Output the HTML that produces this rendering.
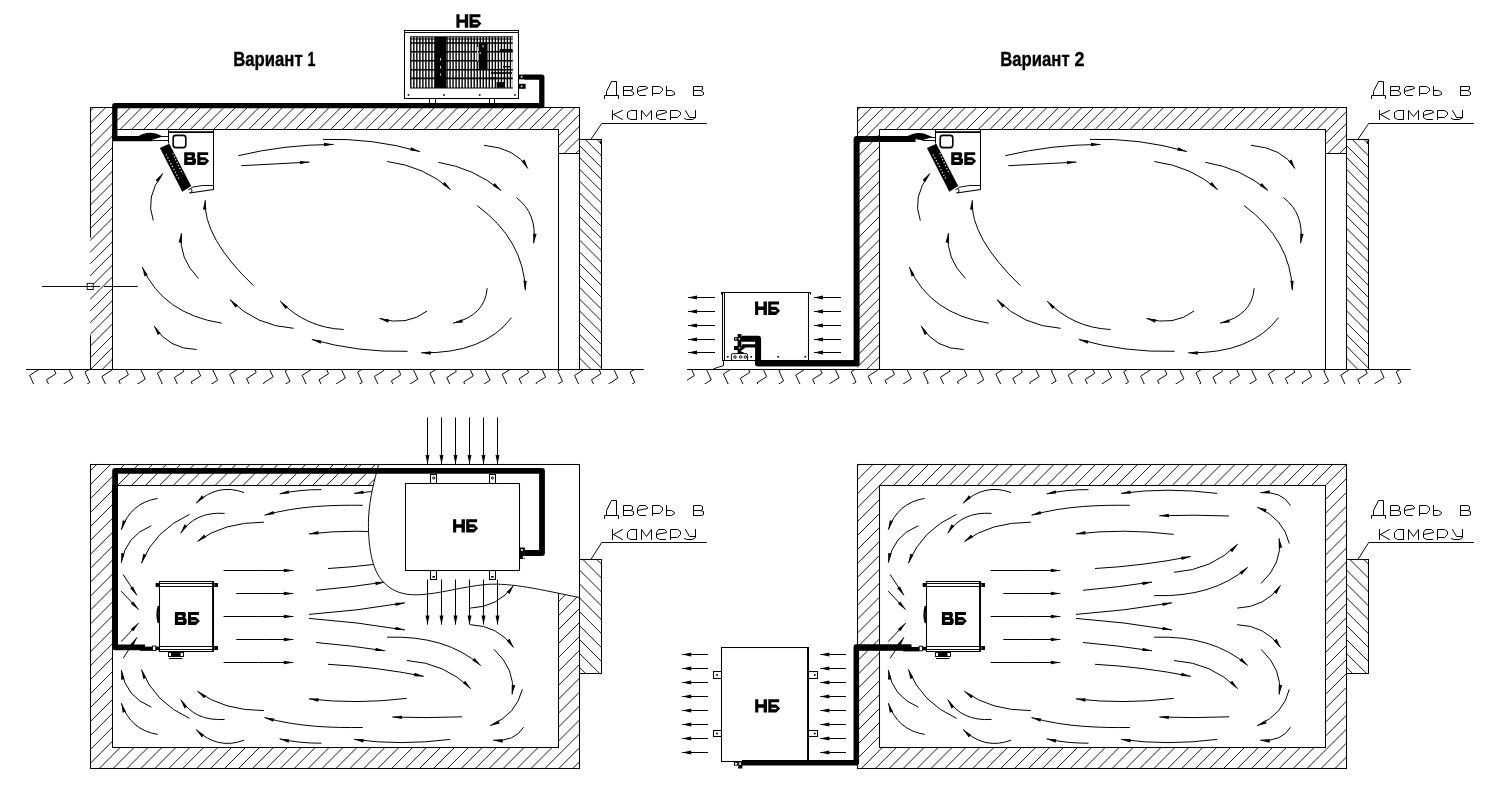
<!DOCTYPE html>
<html><head><meta charset="utf-8"><title>diagram</title>
<style>html,body{margin:0;padding:0;background:#fff}svg{display:block;will-change:transform}</style>
</head><body>
<svg width="1497" height="801" viewBox="0 0 1497 801">
<defs>
<marker id="ah" markerUnits="userSpaceOnUse" markerWidth="11" markerHeight="5" refX="10" refY="2.5" orient="auto"><path d="M10.5,2.5 L0.5,0.8 L0.5,4.2 Z" fill="#000"/></marker>
<marker id="ah2" markerUnits="userSpaceOnUse" markerWidth="11" markerHeight="5" refX="10" refY="2.5" orient="auto"><path d="M10.2,2.5 L1,0.5 L1,4.5 Z" fill="#000"/></marker>
</defs>
<style>
.w{fill:none;stroke:#000;stroke-width:1.05}
.n{fill:none;stroke:#000;stroke-width:0.95}
.h{fill:none;stroke:#000;stroke-width:0.8}
.a{fill:none;stroke:#000;stroke-width:1.0;marker-end:url(#ah)}
.b{fill:none;stroke:#000;stroke-width:1.05;marker-end:url(#ah2)}
.t{fill:none;stroke:#000;stroke-width:1.0;stroke-linejoin:round;stroke-linecap:round}
.f{fill:#000;stroke:none}
.blk{fill:#000;stroke:none}
.wf{fill:#fff;stroke:none}
.hid{font-family:"Liberation Sans",sans-serif;font-size:14px;fill:none;stroke:none}
.ttl{font-family:"Liberation Sans",sans-serif;font-weight:bold;font-size:20.4px;fill:#000;stroke:#000;stroke-width:0.35px;opacity:0.995}
</style>
<rect x="0" y="0" width="1497" height="801" fill="#fff"/>
<clipPath id="hc1"><polygon points="90.2,107.2 112.4,107.2 112.4,369.3 90.2,369.3"/></clipPath>
<path clip-path="url(#hc1)" d="M-168.9,370.3 L95.2,106.2 M-157.2,370.3 L107.0,106.2 M-145.4,370.3 L118.7,106.2 M-133.7,370.3 L130.4,106.2 M-121.9,370.3 L142.2,106.2 M-110.2,370.3 L153.9,106.2 M-98.4,370.3 L165.7,106.2 M-86.7,370.3 L177.4,106.2 M-74.9,370.3 L189.2,106.2 M-63.2,370.3 L200.9,106.2 M-51.4,370.3 L212.7,106.2 M-39.7,370.3 L224.4,106.2 M-27.9,370.3 L236.2,106.2 M-16.2,370.3 L247.9,106.2 M-4.4,370.3 L259.7,106.2 M7.3,370.3 L271.4,106.2 M19.1,370.3 L283.2,106.2 M30.8,370.3 L294.9,106.2 M42.6,370.3 L306.7,106.2 M54.3,370.3 L318.4,106.2 M66.1,370.3 L330.2,106.2 M77.8,370.3 L341.9,106.2 M89.6,370.3 L353.7,106.2 M101.3,370.3 L365.4,106.2" class="h" style="stroke-width:0.90"/>
<clipPath id="hc2"><polygon points="117.4,107.2 579.7,107.2 579.7,153.3 558.6,153.3 558.6,129.8 117.4,129.8"/></clipPath>
<path clip-path="url(#hc2)" d="M71.8,154.3 L119.9,106.2 M83.5,154.3 L131.6,106.2 M95.2,154.3 L143.3,106.2 M106.9,154.3 L155.0,106.2 M118.6,154.3 L166.7,106.2 M130.3,154.3 L178.4,106.2 M142.0,154.3 L190.1,106.2 M153.7,154.3 L201.8,106.2 M165.4,154.3 L213.5,106.2 M177.1,154.3 L225.2,106.2 M188.8,154.3 L236.9,106.2 M200.5,154.3 L248.6,106.2 M212.2,154.3 L260.3,106.2 M223.9,154.3 L272.0,106.2 M235.6,154.3 L283.7,106.2 M247.3,154.3 L295.4,106.2 M259.0,154.3 L307.1,106.2 M270.7,154.3 L318.8,106.2 M282.4,154.3 L330.5,106.2 M294.1,154.3 L342.2,106.2 M305.8,154.3 L353.9,106.2 M317.5,154.3 L365.6,106.2 M329.2,154.3 L377.3,106.2 M340.9,154.3 L389.0,106.2 M352.6,154.3 L400.7,106.2 M364.3,154.3 L412.4,106.2 M376.0,154.3 L424.1,106.2 M387.7,154.3 L435.8,106.2 M399.4,154.3 L447.5,106.2 M411.1,154.3 L459.2,106.2 M422.8,154.3 L470.9,106.2 M434.5,154.3 L482.6,106.2 M446.2,154.3 L494.3,106.2 M457.9,154.3 L506.0,106.2 M469.6,154.3 L517.7,106.2 M481.3,154.3 L529.4,106.2 M493.0,154.3 L541.1,106.2 M504.7,154.3 L552.8,106.2 M516.4,154.3 L564.5,106.2 M528.1,154.3 L576.2,106.2 M539.8,154.3 L587.9,106.2 M551.5,154.3 L599.6,106.2 M563.2,154.3 L611.3,106.2 M574.9,154.3 L623.0,106.2" class="h" style="stroke-width:0.90"/>
<clipPath id="hc3"><polygon points="579.7,139.3 601.7,139.3 601.7,369.3 579.7,369.3"/></clipPath>
<path clip-path="url(#hc3)" d="M359.8,138.3 L591.8,370.3 M371.6,138.3 L603.6,370.3 M383.4,138.3 L615.4,370.3 M395.2,138.3 L627.2,370.3 M407.0,138.3 L639.0,370.3 M418.8,138.3 L650.8,370.3 M430.6,138.3 L662.6,370.3 M442.4,138.3 L674.4,370.3 M454.2,138.3 L686.2,370.3 M466.0,138.3 L698.0,370.3 M477.8,138.3 L709.8,370.3 M489.6,138.3 L721.6,370.3 M501.4,138.3 L733.4,370.3 M513.2,138.3 L745.2,370.3 M525.0,138.3 L757.0,370.3 M536.8,138.3 L768.8,370.3 M548.6,138.3 L780.6,370.3 M560.4,138.3 L792.4,370.3 M572.2,138.3 L804.2,370.3 M584.0,138.3 L816.0,370.3 M595.8,138.3 L827.8,370.3" class="h" style="stroke-width:0.90"/>
<path d="M90.5,107.2 L90.5,237.6" class="w"/>
<path d="M90.5,335.3 L90.5,369.3" class="w"/>
<path d="M90.2,107.5 L579.7,107.5" class="w"/>
<path d="M579.5,107.2 L579.5,369.3" class="w"/>
<path d="M112.5,369.3 L112.5,129.5 L558.5,129.5 L558.5,369.3" class="w"/>
<path d="M558.6,153.5 L579.7,153.5" class="w"/>
<path d="M579.7,139.5 L601.5,139.5 L601.5,369.3" class="w"/>
<path d="M600.2,140.5 L600.5,143.5 L601.7,142.0" class="n"/>
<path d="M590.9,139.3 L601.7,123.5 L706.9,123.5" class="n"/>
<text x="604.0" y="96.0" class="hid">Дверь в</text><text x="612.0" y="120.0" class="hid">камеру</text>
<path d="M604.5,98.5 L604.5,95.5 L618.5,95.5 L618.5,98.5 M606.5,95.5 L606.5,91.5 L611.5,81.5 L616.5,81.5 L616.5,95.5 M630.5,90.5 L623.5,90.5 M623.5,95.5 L623.5,86.5 L630.5,86.5 L632.5,86.5 L632.5,89.5 L630.5,90.5 L633.5,92.5 L633.5,94.5 L631.5,95.5 L623.5,95.5 M637.5,91.5 L647.5,88.5 L647.5,87.5 L645.5,86.5 L639.5,86.5 L637.5,88.5 L637.5,93.5 L639.5,95.5 L645.5,95.5 M652.5,95.5 L652.5,86.5 L659.5,86.5 L662.5,88.5 L662.5,90.5 L659.5,93.5 L652.5,93.5 M666.5,86.5 L666.5,95.5 L671.5,95.5 L674.5,94.5 L674.5,92.5 L671.5,90.5 L666.5,90.5 M700.5,90.5 L693.5,90.5 M693.5,95.5 L693.5,86.5 L700.5,86.5 L702.5,86.5 L702.5,89.5 L700.5,90.5 L703.5,92.5 L703.5,94.5 L701.5,95.5 L693.5,95.5 M612.5,110.5 L612.5,119.5 M622.5,110.5 L613.5,114.5 L622.5,119.5 M612.5,114.5 L613.5,114.5 M636.5,110.5 L636.5,119.5 M636.5,110.5 L630.5,110.5 L627.5,112.5 L627.5,117.5 L630.5,119.5 L636.5,119.5 M641.5,119.5 L641.5,110.5 L646.5,116.5 L651.5,110.5 L651.5,119.5 M656.5,115.5 L666.5,112.5 L666.5,111.5 L664.5,110.5 L658.5,110.5 L656.5,112.5 L656.5,117.5 L659.5,119.5 L665.5,119.5 M670.5,119.5 L670.5,110.5 L677.5,110.5 L680.5,112.5 L680.5,114.5 L677.5,117.5 L670.5,117.5 M685.5,110.5 L689.5,117.5 L695.5,117.5 M695.5,110.5 L695.5,117.5 L692.5,119.5 L686.5,119.5 L684.5,118.5" class="t"/>
<clipPath id="gc4"><rect x="26.0" y="369.3" width="617.8" height="14.6"/></clipPath>
<path clip-path="url(#gc4)" d="M-23.7,335.6 L-33.2,341.7 L-28.5,351.9 L-38.0,358.0 L-33.2,368.2 L-42.7,374.3 L-38.0,384.6 L-47.5,390.6 L-42.7,400.9 L-52.2,406.9 M-2.1,323.7 L-11.6,329.7 L-6.8,340.0 L-16.3,346.0 L-11.6,356.3 L-21.1,362.3 L-16.3,372.6 L-25.8,378.7 L-21.1,388.9 L-30.6,395.0 M14.8,328.0 L5.3,334.1 L10.1,344.3 L0.6,350.4 L5.3,360.6 L-4.2,366.7 L0.6,376.9 L-8.9,383.0 L-4.2,393.2 L-13.7,399.3 M31.7,332.4 L22.2,338.4 L27.0,348.7 L17.5,354.7 L22.2,365.0 L12.7,371.0 L17.5,381.3 L8.0,387.4 L12.7,397.6 L3.2,403.7 M48.6,336.7 L39.1,342.8 L43.9,353.0 L34.4,359.1 L39.1,369.3 L29.6,375.4 L34.4,385.6 L24.9,391.7 L29.6,401.9 L20.1,408.0 M70.3,324.8 L60.8,330.8 L65.5,341.1 L56.0,347.1 L60.8,357.4 L51.2,363.4 L56.0,373.7 L46.5,379.8 L51.3,390.0 L41.8,396.1 M87.2,329.1 L77.6,335.2 L82.4,345.4 L72.9,351.5 L77.7,361.7 L68.1,367.8 L72.9,378.0 L63.4,384.1 L68.2,394.3 L58.6,400.4 M104.1,333.4 L94.5,339.5 L99.3,349.8 L89.8,355.8 L94.6,366.1 L85.0,372.1 L89.8,382.4 L80.3,388.4 L85.1,398.7 L75.5,404.8 M121.0,337.8 L111.4,343.9 L116.2,354.1 L106.7,360.2 L111.5,370.4 L101.9,376.5 L106.7,386.7 L97.2,392.8 L102.0,403.0 L92.4,409.1 M142.6,325.8 L133.1,331.9 L137.9,342.1 L128.3,348.2 L133.1,358.5 L123.6,364.5 L128.4,374.8 L118.8,380.8 L123.6,391.1 L114.1,397.1 M159.5,330.2 L150.0,336.3 L154.8,346.5 L145.2,352.6 L150.0,362.8 L140.5,368.9 L145.3,379.1 L135.8,385.2 L140.5,395.4 L131.0,401.5 M176.4,334.5 L166.9,340.6 L171.7,350.8 L162.1,356.9 L166.9,367.2 L157.4,373.2 L162.2,383.5 L152.6,389.5 L157.4,399.8 L147.9,405.8 M193.3,338.9 L183.8,345.0 L188.6,355.2 L179.0,361.3 L183.8,371.5 L174.3,377.6 L179.1,387.8 L169.5,393.9 L174.3,404.1 L164.8,410.2 M215.0,326.9 L205.4,333.0 L210.2,343.2 L200.7,349.3 L205.5,359.5 L195.9,365.6 L200.7,375.9 L191.2,381.9 L196.0,392.2 L186.4,398.2 M231.9,331.3 L222.3,337.3 L227.1,347.6 L217.6,353.7 L222.4,363.9 L212.8,370.0 L217.6,380.2 L208.1,386.3 L212.9,396.5 L203.3,402.6 M248.8,335.6 L239.2,341.7 L244.0,351.9 L234.5,358.0 L239.3,368.2 L229.7,374.3 L234.5,384.6 L225.0,390.6 L229.8,400.9 L220.2,406.9 M270.4,323.7 L260.9,329.7 L265.7,340.0 L256.1,346.0 L260.9,356.3 L251.4,362.4 L256.2,372.6 L246.6,378.7 L251.4,388.9 L241.9,395.0 M287.3,328.0 L277.8,334.1 L282.6,344.3 L273.0,350.4 L277.8,360.6 L268.3,366.7 L273.1,376.9 L263.5,383.0 L268.3,393.3 L258.8,399.3 M304.2,332.4 L294.7,338.4 L299.5,348.7 L289.9,354.7 L294.7,365.0 L285.2,371.1 L290.0,381.3 L280.4,387.4 L285.2,397.6 L275.7,403.7 M321.1,336.7 L311.6,342.8 L316.4,353.0 L306.8,359.1 L311.6,369.3 L302.1,375.4 L306.9,385.6 L297.3,391.7 L302.1,402.0 L292.6,408.0 M342.8,324.8 L333.2,330.8 L338.0,341.1 L328.5,347.1 L333.3,357.4 L323.8,363.4 L328.5,373.7 L319.0,379.8 L323.8,390.0 L314.2,396.1 M359.7,329.1 L350.1,335.2 L354.9,345.4 L345.4,351.5 L350.2,361.7 L340.6,367.8 L345.4,378.0 L335.9,384.1 L340.7,394.3 L331.1,400.4 M376.6,333.5 L367.1,339.5 L371.8,349.8 L362.3,355.8 L367.1,366.1 L357.6,372.1 L362.3,382.4 L352.8,388.5 L357.6,398.7 L348.1,404.8 M393.5,337.8 L383.9,343.9 L388.7,354.1 L379.2,360.2 L384.0,370.4 L374.4,376.5 L379.2,386.7 L369.7,392.8 L374.5,403.0 L364.9,409.1 M415.1,325.8 L405.6,331.9 L410.4,342.2 L400.9,348.2 L405.6,358.5 L396.1,364.5 L400.9,374.8 L391.4,380.8 L396.1,391.1 L386.6,397.2 M432.0,330.2 L422.5,336.3 L427.3,346.5 L417.8,352.6 L422.5,362.8 L413.0,368.9 L417.8,379.1 L408.2,385.2 L413.0,395.4 L403.5,401.5 M448.9,334.5 L439.4,340.6 L444.2,350.9 L434.6,356.9 L439.4,367.2 L429.9,373.2 L434.7,383.5 L425.1,389.5 L429.9,399.8 L420.4,405.9 M465.8,338.9 L456.3,345.0 L461.1,355.2 L451.6,361.3 L456.3,371.5 L446.8,377.6 L451.6,387.8 L442.1,393.9 L446.8,404.1 L437.3,410.2 M487.5,326.9 L477.9,333.0 L482.7,343.2 L473.2,349.3 L478.0,359.6 L468.4,365.6 L473.2,375.9 L463.7,381.9 L468.5,392.2 L458.9,398.2 M504.4,331.3 L494.8,337.4 L499.6,347.6 L490.1,353.7 L494.9,363.9 L485.3,370.0 L490.1,380.2 L480.6,386.3 L485.4,396.5 L475.8,402.6 M521.3,335.6 L511.8,341.7 L516.5,351.9 L507.0,358.0 L511.8,368.3 L502.2,374.3 L507.0,384.6 L497.5,390.6 L502.3,400.9 L492.8,406.9 M542.9,323.7 L533.4,329.7 L538.2,340.0 L528.6,346.1 L533.4,356.3 L523.9,362.4 L528.7,372.6 L519.1,378.7 L523.9,388.9 L514.4,395.0 M559.8,328.0 L550.3,334.1 L555.1,344.3 L545.5,350.4 L550.3,360.6 L540.8,366.7 L545.6,377.0 L536.0,383.0 L540.8,393.3 L531.3,399.3 M576.7,332.4 L567.2,338.4 L572.0,348.7 L562.4,354.8 L567.2,365.0 L557.7,371.1 L562.5,381.3 L552.9,387.4 L557.7,397.6 L548.2,403.7 M593.6,336.7 L584.1,342.8 L588.9,353.0 L579.3,359.1 L584.1,369.3 L574.6,375.4 L579.4,385.7 L569.8,391.7 L574.6,402.0 L565.1,408.0 M615.3,324.8 L605.8,330.8 L610.5,341.1 L601.0,347.1 L605.8,357.4 L596.2,363.5 L601.0,373.7 L591.5,379.8 L596.3,390.0 L586.8,396.1 M632.2,329.1 L622.6,335.2 L627.4,345.4 L617.9,351.5 L622.7,361.7 L613.1,367.8 L617.9,378.0 L608.4,384.1 L613.2,394.4 L603.6,400.4 M649.1,333.5 L639.5,339.5 L644.3,349.8 L634.8,355.8 L639.6,366.1 L630.0,372.2 L634.8,382.4 L625.3,388.5 L630.1,398.7 L620.5,404.8 M666.0,337.8 L656.4,343.9 L661.2,354.1 L651.7,360.2 L656.5,370.4 L646.9,376.5 L651.7,386.7 L642.2,392.8 L647.0,403.1 L637.4,409.1 M687.6,325.9 L678.1,331.9 L682.9,342.2 L673.4,348.2 L678.1,358.5 L668.6,364.5 L673.4,374.8 L663.9,380.9 L668.6,391.1 L659.1,397.2 M704.5,330.2 L695.0,336.3 L699.8,346.5 L690.2,352.6 L695.0,362.8 L685.5,368.9 L690.3,379.1 L680.8,385.2 L685.5,395.4 L676.0,401.5 M721.4,334.6 L711.9,340.6 L716.7,350.9 L707.1,356.9 L711.9,367.2 L702.4,373.2 L707.2,383.5 L697.6,389.6 L702.4,399.8 L692.9,405.9 M738.3,338.9 L728.8,345.0 L733.6,355.2 L724.0,361.3 L728.8,371.5 L719.3,377.6 L724.1,387.8 L714.5,393.9 L719.3,404.1 L709.8,410.2 M760.0,326.9 L750.4,333.0 L755.2,343.3 L745.7,349.3 L750.5,359.6 L740.9,365.6 L745.7,375.9 L736.2,381.9 L741.0,392.2 L731.4,398.3 M776.9,331.3 L767.4,337.4 L772.1,347.6 L762.6,353.7 L767.4,363.9 L757.9,370.0 L762.6,380.2 L753.1,386.3 L757.9,396.5 L748.4,402.6" class="h" style="stroke-width:0.95"/>
<path d="M26.0,369.5 L643.8,369.5" class="w"/>
<path d="M238.3,155.7 Q284.1,144.6 333.5,144.4" class="a"/>
<path d="M241.3,165.7 Q275.4,163.9 309.4,162.1" class="a"/>
<path d="M153.3,220.5 Q144.6,197.0 162.8,173.5" class="a"/>
<path d="M198.4,278.4 Q178.5,258.2 181.3,233.2" class="a"/>
<path d="M253.5,285.7 Q203.0,237.4 205.2,200.2" class="a"/>
<path d="M221.7,323.2 Q163.0,313.9 142.3,267.1" class="a"/>
<path d="M196.6,349.5 Q168.7,349.2 154.1,326.0" class="a"/>
<path d="M293.6,328.3 Q256.2,326.0 230.0,299.7" class="a"/>
<path d="M343.7,329.5 Q306.1,327.8 280.1,301.0" class="a"/>
<path d="M407.6,351.3 Q358.2,352.6 311.9,339.5" class="a"/>
<path d="M511.5,317.7 Q484.0,353.8 421.3,352.8" class="a"/>
<path d="M487.2,288.2 Q485.2,315.3 453.2,323.2" class="a"/>
<path d="M427.1,311.0 Q406.7,326.5 379.5,318.5" class="a"/>
<path d="M323.0,139.4 Q372.6,137.9 419.8,151.5" class="a"/>
<path d="M387.2,161.5 Q425.1,166.4 450.7,189.7" class="a"/>
<path d="M438.3,162.3 Q474.4,168.2 501.0,190.5" class="a"/>
<path d="M484.0,145.3 Q516.0,148.1 527.9,168.5" class="a"/>
<path d="M516.4,197.6 Q537.5,213.6 533.7,243.2" class="a"/>
<path d="M477.2,205.6 Q523.8,240.1 525.3,290.2" class="a"/>
<path d="M42.0,286.5 L100.2,286.5" class="n"/>
<path d="M104.0,286.5 L137.8,286.5" class="n"/>
<rect x="87.2" y="283.3" width="6" height="6.2" fill="#fff" stroke="#000" stroke-width="0.9"/>
<path d="M87.2,286.5 L93.2,286.5" class="n"/>
<rect x="404.5" y="30.5" width="114.0" height="68.0" class="w"/>
<path d="M404.3,32.5 L518.6,32.5" class="n"/>
<rect x="410.1" y="36.3" width="102.7" height="52.2" class="f"/>
<path d="M412.30,37.2 v1.4 M412.30,39.6 v2.6 M412.30,43.8 v7.2 M412.30,52.6 v7.4 M412.30,61.6 v7.4 M412.30,70.6 v7.0 M412.30,79.2 v8.2 M415.32,37.2 v1.4 M415.32,39.6 v2.6 M415.32,43.8 v7.2 M415.32,52.6 v7.4 M415.32,61.6 v7.4 M415.32,70.6 v7.0 M415.32,79.2 v8.2 M418.34,37.2 v1.4 M418.34,39.6 v2.6 M418.34,43.8 v7.2 M418.34,52.6 v7.4 M418.34,61.6 v7.4 M418.34,70.6 v7.0 M418.34,79.2 v8.2 M421.36,37.2 v1.4 M421.36,39.6 v2.6 M421.36,43.8 v7.2 M421.36,52.6 v7.4 M421.36,61.6 v7.4 M421.36,70.6 v7.0 M421.36,79.2 v8.2 M424.38,37.2 v1.4 M424.38,39.6 v2.6 M424.38,43.8 v7.2 M424.38,52.6 v7.4 M424.38,61.6 v7.4 M424.38,70.6 v7.0 M424.38,79.2 v8.2 M427.40,37.2 v1.4 M427.40,39.6 v2.6 M427.40,43.8 v7.2 M427.40,52.6 v7.4 M427.40,61.6 v7.4 M427.40,70.6 v7.0 M427.40,79.2 v8.2 M430.42,37.2 v1.4 M430.42,39.6 v2.6 M430.42,43.8 v7.2 M430.42,52.6 v7.4 M430.42,61.6 v7.4 M430.42,70.6 v7.0 M430.42,79.2 v8.2 M433.44,37.2 v1.4 M433.44,39.6 v2.6 M433.44,43.8 v7.2 M433.44,52.6 v7.4 M433.44,61.6 v7.4 M433.44,70.6 v7.0 M433.44,79.2 v8.2 M436.46,37.2 v1.4 M436.46,39.6 v2.6 M436.46,43.8 v7.2 M436.46,52.6 v7.4 M436.46,61.6 v7.4 M436.46,70.6 v7.0 M436.46,79.2 v8.2 M439.48,37.2 v1.4 M439.48,39.6 v2.6 M439.48,43.8 v7.2 M439.48,52.6 v7.4 M439.48,61.6 v7.4 M439.48,70.6 v7.0 M439.48,79.2 v8.2 M442.50,37.2 v1.4 M442.50,39.6 v2.6 M442.50,43.8 v7.2 M442.50,52.6 v7.4 M442.50,61.6 v7.4 M442.50,70.6 v7.0 M442.50,79.2 v8.2 M445.52,37.2 v1.4 M445.52,39.6 v2.6 M445.52,43.8 v7.2 M445.52,52.6 v7.4 M445.52,61.6 v7.4 M445.52,70.6 v7.0 M445.52,79.2 v8.2 M448.54,37.2 v1.4 M448.54,39.6 v2.6 M448.54,43.8 v7.2 M448.54,52.6 v7.4 M448.54,61.6 v7.4 M448.54,70.6 v7.0 M448.54,79.2 v8.2 M451.56,37.2 v1.4 M451.56,39.6 v2.6 M451.56,43.8 v7.2 M451.56,52.6 v7.4 M451.56,61.6 v7.4 M451.56,70.6 v7.0 M451.56,79.2 v8.2 M454.58,37.2 v1.4 M454.58,39.6 v2.6 M454.58,43.8 v7.2 M454.58,52.6 v7.4 M454.58,61.6 v7.4 M454.58,70.6 v7.0 M454.58,79.2 v8.2 M457.60,37.2 v1.4 M457.60,39.6 v2.6 M457.60,43.8 v7.2 M457.60,52.6 v7.4 M457.60,61.6 v7.4 M457.60,70.6 v7.0 M457.60,79.2 v8.2 M460.62,37.2 v1.4 M460.62,39.6 v2.6 M460.62,43.8 v7.2 M460.62,52.6 v7.4 M460.62,61.6 v7.4 M460.62,70.6 v7.0 M460.62,79.2 v8.2 M463.64,37.2 v1.4 M463.64,39.6 v2.6 M463.64,43.8 v7.2 M463.64,52.6 v7.4 M463.64,61.6 v7.4 M463.64,70.6 v7.0 M463.64,79.2 v8.2 M466.66,37.2 v1.4 M466.66,39.6 v2.6 M466.66,43.8 v7.2 M466.66,52.6 v7.4 M466.66,61.6 v7.4 M466.66,70.6 v7.0 M466.66,79.2 v8.2 M469.68,37.2 v1.4 M469.68,39.6 v2.6 M469.68,43.8 v7.2 M469.68,52.6 v7.4 M469.68,61.6 v7.4 M469.68,70.6 v7.0 M469.68,79.2 v8.2 M472.70,37.2 v1.4 M472.70,39.6 v2.6 M472.70,43.8 v7.2 M472.70,52.6 v7.4 M472.70,61.6 v7.4 M472.70,70.6 v7.0 M472.70,79.2 v8.2 M475.72,37.2 v1.4 M475.72,39.6 v2.6 M475.72,43.8 v7.2 M475.72,52.6 v7.4 M475.72,61.6 v7.4 M475.72,70.6 v7.0 M475.72,79.2 v8.2 M478.74,37.2 v1.4 M478.74,39.6 v2.6 M478.74,43.8 v7.2 M478.74,52.6 v7.4 M478.74,61.6 v7.4 M478.74,70.6 v7.0 M478.74,79.2 v8.2 M481.76,37.2 v1.4 M481.76,39.6 v2.6 M481.76,43.8 v7.2 M481.76,52.6 v7.4 M481.76,61.6 v7.4 M481.76,70.6 v7.0 M481.76,79.2 v8.2 M484.78,37.2 v1.4 M484.78,39.6 v2.6 M484.78,43.8 v7.2 M484.78,52.6 v7.4 M484.78,61.6 v7.4 M484.78,70.6 v7.0 M484.78,79.2 v8.2 M487.80,37.2 v1.4 M487.80,39.6 v2.6 M487.80,43.8 v7.2 M487.80,52.6 v7.4 M487.80,61.6 v7.4 M487.80,70.6 v7.0 M487.80,79.2 v8.2 M490.82,37.2 v1.4 M490.82,39.6 v2.6 M490.82,43.8 v7.2 M490.82,52.6 v7.4 M490.82,61.6 v7.4 M490.82,70.6 v7.0 M490.82,79.2 v8.2 M493.84,37.2 v1.4 M493.84,39.6 v2.6 M493.84,43.8 v7.2 M493.84,52.6 v7.4 M493.84,61.6 v7.4 M493.84,70.6 v7.0 M493.84,79.2 v8.2 M496.86,37.2 v1.4 M496.86,39.6 v2.6 M496.86,43.8 v7.2 M496.86,52.6 v7.4 M496.86,61.6 v7.4 M496.86,70.6 v7.0 M496.86,79.2 v8.2 M499.88,37.2 v1.4 M499.88,39.6 v2.6 M499.88,43.8 v7.2 M499.88,52.6 v7.4 M499.88,61.6 v7.4 M499.88,70.6 v7.0 M499.88,79.2 v8.2 M502.90,37.2 v1.4 M502.90,39.6 v2.6 M502.90,43.8 v7.2 M502.90,52.6 v7.4 M502.90,61.6 v7.4 M502.90,70.6 v7.0 M502.90,79.2 v8.2 M505.92,37.2 v1.4 M505.92,39.6 v2.6 M505.92,43.8 v7.2 M505.92,52.6 v7.4 M505.92,61.6 v7.4 M505.92,70.6 v7.0 M505.92,79.2 v8.2 M508.94,37.2 v1.4 M508.94,39.6 v2.6 M508.94,43.8 v7.2 M508.94,52.6 v7.4 M508.94,61.6 v7.4 M508.94,70.6 v7.0 M508.94,79.2 v8.2 M511.96,37.2 v1.4 M511.96,39.6 v2.6 M511.96,43.8 v7.2 M511.96,52.6 v7.4 M511.96,61.6 v7.4 M511.96,70.6 v7.0 M511.96,79.2 v8.2" stroke="#fff" stroke-width="1.6" fill="none"/>
<rect x="434.8" y="37.0" width="11.3" height="51.0" class="f"/>
<rect x="478.6" y="42.5" width="9.0" height="27.1" class="f"/>
<rect x="499.7" y="49.0" width="12.9" height="3.0" class="f"/>
<rect x="491.0" y="72.2" width="21.0" height="1.6" class="f"/>
<rect x="496.6" y="82.0" width="8.4" height="5.6" class="f"/>
<rect x="489.0" y="77.6" width="8.0" height="1.6" class="f"/>
<rect x="503.0" y="66.0" width="8.0" height="1.4" class="f"/>
<path d="M440.6,58 v2.5 M440.6,66 v2.5 M440.6,73.5 v2 M483,45 v2.5 M480.2,52 v2 M477.6,47 v14" stroke="#fff" stroke-width="0.9" fill="none"/>
<rect x="407.7" y="94.2" width="1.6" height="1.6" class="f"/>
<rect x="443.2" y="94.2" width="1.6" height="1.6" class="f"/>
<rect x="478.9" y="94.2" width="1.6" height="1.6" class="f"/>
<rect x="514.1" y="94.2" width="1.6" height="1.6" class="f"/>
<rect x="429.5" y="98.5" width="6.0" height="5.0" class="n"/>
<rect x="489.5" y="98.5" width="5.0" height="5.0" class="n"/>
<rect x="519" y="74.6" width="6.6" height="4.8" class="f"/><rect x="519" y="83.8" width="6.6" height="5" class="f"/>
<rect x="520.8" y="76" width="1.6" height="1.6" fill="#fff"/><rect x="520.8" y="85.6" width="1.6" height="1.6" fill="#fff"/>
<path d="M518.5,72.0 L518.5,91.0" class="w"/>
<text x="456.4" y="27.7" class="hid">НБ</text>
<g class="blk"><path d="M456.40,14.30 h3.10 v5.14 h5.30 v-5.14 h3.40 v13.40 h-3.40 v-4.84 h-5.30 v4.84 h-3.10 Z"/><path fill-rule="evenodd" d="M469.50,14.30 h10.9 v3.02 h-7.9 v2.22 h5 l3.9,4.03 l-3.9,4.13 h-8 Z M472.70,22.76 h4.9 v1.51 h-4.9 Z"/></g>
<path d="M524.5,77.1 L541.8,77.1 L541.8,105.7 L114.8,105.7 L114.8,138.7 L152.5,138.7" fill="none" stroke="#000" stroke-width="5.3" stroke-linejoin="round"/>
<path d="M137.5,137 C143,132.4 151,131.9 156,133.6 L163,136.6 L153,139.5 Z" class="f"/>
<path d="M152.4,136.5 L168.6,136.5" class="n"/>
<path d="M152.4,140.5 L168.6,140.5" class="n"/>
<path d="M168.5,143.5 L168.5,129.5 L213.5,129.5 L213.5,189.5 L189.5,193.0" class="w"/>
<path d="M168.5,132.2 H213.8" stroke="#000" stroke-width="1.8" fill="none"/>
<path d="M213.8,185.5 L202.1,185.5 L191.3,187.4" class="n"/>
<polygon points="159.9,148 169.3,143.7 191.2,186.1 182.3,191.7" class="f"/>
<path d="M166.1,154.5 L178.8,178.8" stroke="#fff" stroke-width="1.15" stroke-dasharray="1.15,2.1" fill="none"/>
<path d="M172.0,151.8 L182.5,174.0" stroke="#fff" stroke-width="1.15" stroke-dasharray="1.15,2.1" stroke-dashoffset="1.6" fill="none"/>
<path d="M188.3,189.8 L191.2,188.4 L192.2,191.3 L189.6,193.0" class="n"/>
<rect x="173.2" y="135.4" width="12.6" height="12.2" rx="2.6" class="w" style="stroke-width:1.6"/>
<text x="184.2" y="164.9" class="hid">ВБ</text>
<g class="blk"><path fill-rule="evenodd" d="M184.20,152.20 h9.6 l1.3,1.24 v3.06 l-0.9,1.24 l1.8,1.53 v3.82 l-1.6,1.81 h-10.2 Z M187.40,155.35 h4.2 v1.81 h-4.2 Z M187.40,160.03 h4.9 v1.81 h-4.9 Z"/><path fill-rule="evenodd" d="M197.30,152.20 h10.9 v2.86 h-7.9 v2.10 h5 l3.9,3.82 l-3.9,3.92 h-8 Z M200.50,160.22 h4.9 v1.43 h-4.9 Z"/></g>
<text class="ttl" x="0" y="0" transform="translate(233.2,65.8) scale(0.82,1)">Вариант</text>
<text class="ttl" x="0" y="0" transform="translate(307.6,65.8) scale(0.70,1)">1</text>
<clipPath id="hc5"><polygon points="857.2,107.2 1346.7,107.2 1346.7,153.3 1325.6,153.3 1325.6,129.8 879.4,129.8 879.4,369.3 857.2,369.3"/></clipPath>
<path clip-path="url(#hc5)" d="M597.2,370.3 L861.3,106.2 M608.9,370.3 L873.0,106.2 M620.6,370.3 L884.7,106.2 M632.3,370.3 L896.4,106.2 M643.9,370.3 L908.0,106.2 M655.6,370.3 L919.7,106.2 M667.3,370.3 L931.4,106.2 M679.0,370.3 L943.1,106.2 M690.7,370.3 L954.8,106.2 M702.3,370.3 L966.4,106.2 M714.0,370.3 L978.1,106.2 M725.7,370.3 L989.8,106.2 M737.4,370.3 L1001.5,106.2 M749.1,370.3 L1013.2,106.2 M760.7,370.3 L1024.8,106.2 M772.4,370.3 L1036.5,106.2 M784.1,370.3 L1048.2,106.2 M795.8,370.3 L1059.9,106.2 M807.5,370.3 L1071.6,106.2 M819.1,370.3 L1083.2,106.2 M830.8,370.3 L1094.9,106.2 M842.5,370.3 L1106.6,106.2 M854.2,370.3 L1118.3,106.2 M865.9,370.3 L1130.0,106.2 M877.5,370.3 L1141.6,106.2 M889.2,370.3 L1153.3,106.2 M900.9,370.3 L1165.0,106.2 M912.6,370.3 L1176.7,106.2 M924.3,370.3 L1188.4,106.2 M935.9,370.3 L1200.0,106.2 M947.6,370.3 L1211.7,106.2 M959.3,370.3 L1223.4,106.2 M971.0,370.3 L1235.1,106.2 M982.7,370.3 L1246.8,106.2 M994.3,370.3 L1258.4,106.2 M1006.0,370.3 L1270.1,106.2 M1017.7,370.3 L1281.8,106.2 M1029.4,370.3 L1293.5,106.2 M1041.1,370.3 L1305.2,106.2 M1052.7,370.3 L1316.8,106.2 M1064.4,370.3 L1328.5,106.2 M1076.1,370.3 L1340.2,106.2 M1087.8,370.3 L1351.9,106.2 M1099.5,370.3 L1363.6,106.2 M1111.1,370.3 L1375.2,106.2 M1122.8,370.3 L1386.9,106.2 M1134.5,370.3 L1398.6,106.2 M1146.2,370.3 L1410.3,106.2 M1157.9,370.3 L1422.0,106.2 M1169.5,370.3 L1433.6,106.2 M1181.2,370.3 L1445.3,106.2 M1192.9,370.3 L1457.0,106.2 M1204.6,370.3 L1468.7,106.2 M1216.3,370.3 L1480.4,106.2 M1227.9,370.3 L1492.0,106.2 M1239.6,370.3 L1503.7,106.2 M1251.3,370.3 L1515.4,106.2 M1263.0,370.3 L1527.1,106.2 M1274.7,370.3 L1538.8,106.2 M1286.3,370.3 L1550.4,106.2 M1298.0,370.3 L1562.1,106.2 M1309.7,370.3 L1573.8,106.2 M1321.4,370.3 L1585.5,106.2 M1333.1,370.3 L1597.2,106.2 M1344.7,370.3 L1608.8,106.2" class="h" style="stroke-width:0.90"/>
<clipPath id="hc6"><polygon points="1346.7,139.3 1368.7,139.3 1368.7,369.3 1346.7,369.3"/></clipPath>
<path clip-path="url(#hc6)" d="M1126.8,138.3 L1358.8,370.3 M1138.6,138.3 L1370.6,370.3 M1150.4,138.3 L1382.4,370.3 M1162.2,138.3 L1394.2,370.3 M1174.0,138.3 L1406.0,370.3 M1185.8,138.3 L1417.8,370.3 M1197.6,138.3 L1429.6,370.3 M1209.4,138.3 L1441.4,370.3 M1221.2,138.3 L1453.2,370.3 M1233.0,138.3 L1465.0,370.3 M1244.8,138.3 L1476.8,370.3 M1256.6,138.3 L1488.6,370.3 M1268.4,138.3 L1500.4,370.3 M1280.2,138.3 L1512.2,370.3 M1292.0,138.3 L1524.0,370.3 M1303.8,138.3 L1535.8,370.3 M1315.6,138.3 L1547.6,370.3 M1327.4,138.3 L1559.4,370.3 M1339.2,138.3 L1571.2,370.3 M1351.0,138.3 L1583.0,370.3 M1362.8,138.3 L1594.8,370.3" class="h" style="stroke-width:0.90"/>
<path d="M857.5,107.2 L857.5,137.0" class="w"/>
<path d="M857.2,107.5 L1346.7,107.5" class="w"/>
<path d="M1346.5,107.2 L1346.5,369.3" class="w"/>
<path d="M879.5,369.3 L879.5,129.5 L1325.5,129.5 L1325.5,369.3" class="w"/>
<path d="M1325.6,153.5 L1346.7,153.5" class="w"/>
<path d="M1346.7,139.5 L1368.5,139.5 L1368.5,369.3" class="w"/>
<path d="M1367.2,140.5 L1367.5,143.5 L1368.7,142.0" class="n"/>
<path d="M1357.9,139.3 L1368.7,123.5 L1473.9,123.5" class="n"/>
<text x="1371.0" y="96.0" class="hid">Дверь в</text><text x="1379.0" y="120.0" class="hid">камеру</text>
<path d="M1371.5,98.5 L1371.5,95.5 L1385.5,95.5 L1385.5,98.5 M1373.5,95.5 L1373.5,91.5 L1378.5,81.5 L1383.5,81.5 L1383.5,95.5 M1397.5,90.5 L1390.5,90.5 M1390.5,95.5 L1390.5,86.5 L1397.5,86.5 L1399.5,86.5 L1399.5,89.5 L1397.5,90.5 L1400.5,92.5 L1400.5,94.5 L1398.5,95.5 L1390.5,95.5 M1404.5,91.5 L1414.5,88.5 L1414.5,87.5 L1412.5,86.5 L1406.5,86.5 L1404.5,88.5 L1404.5,93.5 L1406.5,95.5 L1412.5,95.5 M1419.5,95.5 L1419.5,86.5 L1426.5,86.5 L1429.5,88.5 L1429.5,90.5 L1426.5,93.5 L1419.5,93.5 M1433.5,86.5 L1433.5,95.5 L1438.5,95.5 L1441.5,94.5 L1441.5,92.5 L1438.5,90.5 L1433.5,90.5 M1467.5,90.5 L1460.5,90.5 M1460.5,95.5 L1460.5,86.5 L1467.5,86.5 L1469.5,86.5 L1469.5,89.5 L1467.5,90.5 L1470.5,92.5 L1470.5,94.5 L1468.5,95.5 L1460.5,95.5 M1379.5,110.5 L1379.5,119.5 M1389.5,110.5 L1380.5,114.5 L1389.5,119.5 M1379.5,114.5 L1380.5,114.5 M1403.5,110.5 L1403.5,119.5 M1403.5,110.5 L1397.5,110.5 L1394.5,112.5 L1394.5,117.5 L1397.5,119.5 L1403.5,119.5 M1408.5,119.5 L1408.5,110.5 L1413.5,116.5 L1418.5,110.5 L1418.5,119.5 M1423.5,115.5 L1433.5,112.5 L1433.5,111.5 L1431.5,110.5 L1425.5,110.5 L1423.5,112.5 L1423.5,117.5 L1426.5,119.5 L1432.5,119.5 M1437.5,119.5 L1437.5,110.5 L1444.5,110.5 L1447.5,112.5 L1447.5,114.5 L1444.5,117.5 L1437.5,117.5 M1452.5,110.5 L1456.5,117.5 L1462.5,117.5 M1462.5,110.5 L1462.5,117.5 L1459.5,119.5 L1453.5,119.5 L1451.5,118.5" class="t"/>
<clipPath id="gc7"><rect x="687.0" y="369.3" width="723.8" height="14.6"/></clipPath>
<path clip-path="url(#gc7)" d="M636.3,325.5 L626.8,331.6 L631.5,341.8 L622.0,347.9 L626.8,358.1 L617.2,364.2 L622.0,374.4 L612.5,380.5 L617.3,390.8 L607.8,396.8 M653.2,329.9 L643.6,335.9 L648.4,346.2 L638.9,352.2 L643.7,362.5 L634.1,368.6 L638.9,378.8 L629.4,384.9 L634.2,395.1 L624.6,401.2 M670.1,334.2 L660.5,340.3 L665.3,350.5 L655.8,356.6 L660.6,366.8 L651.0,372.9 L655.8,383.2 L646.3,389.2 L651.1,399.5 L641.5,405.5 M687.0,338.6 L677.4,344.6 L682.2,354.9 L672.7,360.9 L677.5,371.2 L667.9,377.3 L672.7,387.5 L663.2,393.6 L668.0,403.8 L658.4,409.9 M708.6,326.6 L699.1,332.7 L703.9,342.9 L694.4,349.0 L699.1,359.2 L689.6,365.3 L694.4,375.5 L684.9,381.6 L689.6,391.9 L680.1,397.9 M725.5,331.0 L716.0,337.0 L720.8,347.3 L711.2,353.3 L716.0,363.6 L706.5,369.6 L711.3,379.9 L701.8,386.0 L706.5,396.2 L697.0,402.3 M742.4,335.3 L732.9,341.4 L737.7,351.6 L728.1,357.7 L732.9,367.9 L723.4,374.0 L728.2,384.2 L718.6,390.3 L723.4,400.6 L713.9,406.6 M764.1,323.4 L754.5,329.4 L759.3,339.7 L749.8,345.7 L754.6,356.0 L745.0,362.0 L749.8,372.3 L740.3,378.4 L745.1,388.6 L735.5,394.7 M781.0,327.7 L771.4,333.8 L776.2,344.0 L766.7,350.1 L771.5,360.3 L761.9,366.4 L766.7,376.6 L757.2,382.7 L762.0,392.9 L752.4,399.0 M797.9,332.1 L788.4,338.1 L793.1,348.4 L783.6,354.4 L788.4,364.7 L778.9,370.7 L783.6,381.0 L774.1,387.1 L778.9,397.3 L769.4,403.4 M814.8,336.4 L805.2,342.5 L810.0,352.7 L800.5,358.8 L805.3,369.0 L795.8,375.1 L800.5,385.3 L791.0,391.4 L795.8,401.6 L786.2,407.7 M836.4,324.4 L826.9,330.5 L831.7,340.8 L822.1,346.8 L826.9,357.1 L817.4,363.1 L822.2,373.4 L812.6,379.4 L817.4,389.7 L807.9,395.8 M853.3,328.8 L843.8,334.9 L848.6,345.1 L839.0,351.2 L843.8,361.4 L834.3,367.5 L839.1,377.7 L829.5,383.8 L834.3,394.0 L824.8,400.1 M870.2,333.1 L860.7,339.2 L865.5,349.4 L855.9,355.5 L860.7,365.8 L851.2,371.8 L856.0,382.1 L846.4,388.1 L851.2,398.4 L841.7,404.4 M887.1,337.5 L877.6,343.6 L882.4,353.8 L872.8,359.9 L877.6,370.1 L868.1,376.2 L872.9,386.4 L863.3,392.5 L868.1,402.7 L858.6,408.8 M908.8,325.5 L899.2,331.6 L904.0,341.8 L894.5,347.9 L899.3,358.1 L889.8,364.2 L894.5,374.5 L885.0,380.5 L889.8,390.8 L880.2,396.8 M925.7,329.9 L916.1,335.9 L920.9,346.2 L911.4,352.3 L916.2,362.5 L906.6,368.6 L911.4,378.8 L901.9,384.9 L906.7,395.1 L897.1,401.2 M942.6,334.2 L933.0,340.3 L937.8,350.5 L928.3,356.6 L933.1,366.9 L923.5,372.9 L928.3,383.2 L918.8,389.2 L923.6,399.5 L914.0,405.5 M959.5,338.6 L949.9,344.6 L954.7,354.9 L945.2,361.0 L950.0,371.2 L940.4,377.3 L945.2,387.5 L935.7,393.6 L940.5,403.8 L930.9,409.9 M981.1,326.6 L971.6,332.7 L976.4,342.9 L966.8,349.0 L971.6,359.2 L962.1,365.3 L966.9,375.6 L957.3,381.6 L962.1,391.9 L952.6,397.9 M998.0,331.0 L988.5,337.0 L993.3,347.3 L983.8,353.3 L988.5,363.6 L979.0,369.7 L983.8,379.9 L974.2,386.0 L979.0,396.2 L969.5,402.3 M1014.9,335.3 L1005.4,341.4 L1010.2,351.6 L1000.6,357.7 L1005.4,367.9 L995.9,374.0 L1000.7,384.2 L991.1,390.3 L995.9,400.6 L986.4,406.6 M1036.6,323.4 L1027.0,329.4 L1031.8,339.7 L1022.3,345.7 L1027.1,356.0 L1017.5,362.1 L1022.3,372.3 L1012.8,378.4 L1017.6,388.6 L1008.0,394.7 M1053.5,327.7 L1043.9,333.8 L1048.7,344.0 L1039.2,350.1 L1044.0,360.3 L1034.4,366.4 L1039.2,376.6 L1029.7,382.7 L1034.5,392.9 L1024.9,399.0 M1070.4,332.1 L1060.8,338.1 L1065.6,348.4 L1056.1,354.4 L1060.9,364.7 L1051.3,370.8 L1056.1,381.0 L1046.6,387.1 L1051.4,397.3 L1041.8,403.4 M1087.3,336.4 L1077.8,342.5 L1082.5,352.7 L1073.0,358.8 L1077.8,369.0 L1068.2,375.1 L1073.0,385.3 L1063.5,391.4 L1068.3,401.6 L1058.8,407.7 M1108.9,324.4 L1099.4,330.5 L1104.2,340.8 L1094.7,346.8 L1099.4,357.1 L1089.9,363.1 L1094.7,373.4 L1085.2,379.4 L1089.9,389.7 L1080.4,395.8 M1125.8,328.8 L1116.3,334.9 L1121.1,345.1 L1111.5,351.2 L1116.3,361.4 L1106.8,367.5 L1111.6,377.7 L1102.0,383.8 L1106.8,394.0 L1097.3,400.1 M1142.7,333.1 L1133.2,339.2 L1138.0,349.5 L1128.4,355.5 L1133.2,365.8 L1123.7,371.8 L1128.5,382.1 L1118.9,388.1 L1123.7,398.4 L1114.2,404.5 M1159.6,337.5 L1150.1,343.6 L1154.9,353.8 L1145.3,359.9 L1150.1,370.1 L1140.6,376.2 L1145.4,386.4 L1135.8,392.5 L1140.6,402.7 L1131.1,408.8 M1181.3,325.5 L1171.8,331.6 L1176.5,341.8 L1167.0,347.9 L1171.8,358.2 L1162.2,364.2 L1167.0,374.5 L1157.5,380.5 L1162.3,390.8 L1152.8,396.8 M1198.2,329.9 L1188.6,336.0 L1193.4,346.2 L1183.9,352.3 L1188.7,362.5 L1179.1,368.6 L1183.9,378.8 L1174.4,384.9 L1179.2,395.1 L1169.6,401.2 M1215.1,334.2 L1205.5,340.3 L1210.3,350.6 L1200.8,356.6 L1205.6,366.9 L1196.0,372.9 L1200.8,383.2 L1191.3,389.2 L1196.1,399.5 L1186.5,405.6 M1232.0,338.6 L1222.4,344.7 L1227.2,354.9 L1217.7,361.0 L1222.5,371.2 L1212.9,377.3 L1217.7,387.5 L1208.2,393.6 L1213.0,403.8 L1203.4,409.9 M1253.6,326.6 L1244.1,332.7 L1248.9,342.9 L1239.3,349.0 L1244.1,359.2 L1234.6,365.3 L1239.4,375.6 L1229.8,381.6 L1234.6,391.9 L1225.1,397.9 M1270.5,331.0 L1261.0,337.0 L1265.8,347.3 L1256.2,353.4 L1261.0,363.6 L1251.5,369.7 L1256.3,379.9 L1246.8,386.0 L1251.5,396.2 L1242.0,402.3 M1287.4,335.3 L1277.9,341.4 L1282.7,351.6 L1273.1,357.7 L1277.9,367.9 L1268.4,374.0 L1273.2,384.3 L1263.6,390.3 L1268.4,400.6 L1258.9,406.6 M1309.1,323.4 L1299.5,329.4 L1304.3,339.7 L1294.8,345.8 L1299.6,356.0 L1290.0,362.1 L1294.8,372.3 L1285.3,378.4 L1290.1,388.6 L1280.5,394.7 M1326.0,327.7 L1316.4,333.8 L1321.2,344.0 L1311.7,350.1 L1316.5,360.3 L1306.9,366.4 L1311.7,376.7 L1302.2,382.7 L1307.0,393.0 L1297.4,399.0 M1342.9,332.1 L1333.3,338.1 L1338.1,348.4 L1328.6,354.4 L1333.4,364.7 L1323.8,370.8 L1328.6,381.0 L1319.1,387.1 L1323.9,397.3 L1314.3,403.4 M1359.8,336.4 L1350.2,342.5 L1355.0,352.7 L1345.5,358.8 L1350.3,369.0 L1340.8,375.1 L1345.5,385.3 L1336.0,391.4 L1340.8,401.7 L1331.2,407.7 M1381.4,324.5 L1371.9,330.5 L1376.7,340.8 L1367.2,346.8 L1371.9,357.1 L1362.4,363.1 L1367.2,373.4 L1357.7,379.5 L1362.4,389.7 L1352.9,395.8 M1398.3,328.8 L1388.8,334.9 L1393.6,345.1 L1384.0,351.2 L1388.8,361.4 L1379.3,367.5 L1384.1,377.7 L1374.5,383.8 L1379.3,394.1 L1369.8,400.1 M1415.2,333.2 L1405.7,339.2 L1410.5,349.5 L1400.9,355.5 L1405.7,365.8 L1396.2,371.9 L1401.0,382.1 L1391.4,388.2 L1396.2,398.4 L1386.7,404.5 M1432.1,337.5 L1422.6,343.6 L1427.4,353.8 L1417.8,359.9 L1422.6,370.1 L1413.1,376.2 L1417.9,386.4 L1408.3,392.5 L1413.1,402.7 L1403.6,408.8 M1453.8,325.5 L1444.2,331.6 L1449.0,341.9 L1439.5,347.9 L1444.3,358.2 L1434.8,364.2 L1439.5,374.5 L1430.0,380.5 L1434.8,390.8 L1425.2,396.9 M1470.7,329.9 L1461.2,336.0 L1465.9,346.2 L1456.4,352.3 L1461.2,362.5 L1451.7,368.6 L1456.4,378.8 L1446.9,384.9 L1451.7,395.1 L1442.2,401.2 M1487.6,334.2 L1478.0,340.3 L1482.8,350.6 L1473.3,356.6 L1478.1,366.9 L1468.5,372.9 L1473.3,383.2 L1463.8,389.2 L1468.6,399.5 L1459.0,405.6 M1504.5,338.6 L1494.9,344.7 L1499.7,354.9 L1490.2,361.0 L1495.0,371.2 L1485.4,377.3 L1490.2,387.5 L1480.7,393.6 L1485.5,403.8 L1475.9,409.9 M1526.1,326.6 L1516.6,332.7 L1521.4,342.9 L1511.8,349.0 L1516.6,359.3 L1507.1,365.3 L1511.9,375.6 L1502.3,381.6 L1507.1,391.9 L1497.6,397.9 M1543.0,331.0 L1533.5,337.1 L1538.3,347.3 L1528.8,353.4 L1533.5,363.6 L1524.0,369.7 L1528.8,379.9 L1519.2,386.0 L1524.0,396.2 L1514.5,402.3" class="h" style="stroke-width:0.95"/>
<path d="M687.0,369.5 L1410.8,369.5" class="w"/>
<path d="M1005.3,155.7 Q1051.1,144.6 1100.5,144.4" class="a"/>
<path d="M1008.3,165.7 Q1042.3,163.9 1076.4,162.1" class="a"/>
<path d="M920.3,220.5 Q911.5,197.0 929.8,173.5" class="a"/>
<path d="M965.4,278.4 Q945.6,258.2 948.3,233.2" class="a"/>
<path d="M1020.5,285.7 Q970.1,237.4 972.2,200.2" class="a"/>
<path d="M988.7,323.2 Q930.0,313.9 909.3,267.1" class="a"/>
<path d="M963.6,349.5 Q935.6,349.2 921.1,326.0" class="a"/>
<path d="M1060.6,328.3 Q1023.2,326.0 997.0,299.7" class="a"/>
<path d="M1110.7,329.5 Q1073.1,327.8 1047.1,301.0" class="a"/>
<path d="M1174.6,351.3 Q1125.2,352.6 1078.9,339.5" class="a"/>
<path d="M1278.5,317.7 Q1251.0,353.8 1188.3,352.8" class="a"/>
<path d="M1254.2,288.2 Q1252.2,315.3 1220.2,323.2" class="a"/>
<path d="M1194.1,311.0 Q1173.7,326.5 1146.5,318.5" class="a"/>
<path d="M1090.0,139.4 Q1139.6,137.9 1186.8,151.5" class="a"/>
<path d="M1154.2,161.5 Q1192.0,166.4 1217.7,189.7" class="a"/>
<path d="M1205.3,162.3 Q1241.3,168.2 1268.0,190.5" class="a"/>
<path d="M1251.0,145.3 Q1283.0,148.1 1294.9,168.5" class="a"/>
<path d="M1283.4,197.6 Q1304.5,213.6 1300.7,243.2" class="a"/>
<path d="M1244.2,205.6 Q1290.8,240.1 1292.3,290.2" class="a"/>
<path d="M935.5,143.5 L935.5,129.5 L980.5,129.5 L980.5,189.5 L956.5,193.0" class="w"/>
<path d="M935.5,132.2 H980.8" stroke="#000" stroke-width="1.8" fill="none"/>
<path d="M980.8,185.5 L969.1,185.5 L958.3,187.4" class="n"/>
<polygon points="926.9,148 936.3,143.7 958.2,186.1 949.3,191.7" class="f"/>
<path d="M933.1,154.5 L945.8,178.8" stroke="#fff" stroke-width="1.15" stroke-dasharray="1.15,2.1" fill="none"/>
<path d="M939.0,151.8 L949.5,174.0" stroke="#fff" stroke-width="1.15" stroke-dasharray="1.15,2.1" stroke-dashoffset="1.6" fill="none"/>
<path d="M955.3,189.8 L958.2,188.4 L959.2,191.3 L956.6,193.0" class="n"/>
<rect x="940.2" y="135.4" width="12.6" height="12.2" rx="2.6" class="w" style="stroke-width:1.6"/>
<text x="951.2" y="164.9" class="hid">ВБ</text>
<g class="blk"><path fill-rule="evenodd" d="M951.20,152.20 h9.6 l1.3,1.24 v3.06 l-0.9,1.24 l1.8,1.53 v3.82 l-1.6,1.81 h-10.2 Z M954.40,155.35 h4.2 v1.81 h-4.2 Z M954.40,160.03 h4.9 v1.81 h-4.9 Z"/><path fill-rule="evenodd" d="M964.30,152.20 h10.9 v2.86 h-7.9 v2.10 h5 l3.9,3.82 l-3.9,3.92 h-8 Z M967.50,160.22 h4.9 v1.43 h-4.9 Z"/></g>
<rect x="722.5" y="292.5" width="86.0" height="68.0" class="w"/>
<path d="M721.2,292.5 L810.2,292.5" class="w"/>
<path d="M721.5,292.2 L721.5,294.5" class="w"/>
<path d="M810.5,292.2 L810.5,294.5" class="w"/>
<path d="M724.5,293.0 L724.5,360.2" class="n"/>
<path d="M723.5,360.2 L723.5,365.6 L713.4,368.8" class="n"/>
<rect x="727.0" y="356" width="1.6" height="1.6" class="f"/>
<rect x="750.4" y="356" width="1.6" height="1.6" class="f"/>
<rect x="777.4" y="356" width="1.6" height="1.6" class="f"/>
<rect x="804.5" y="356" width="1.6" height="1.6" class="f"/>
<path d="M731.4,360.2 V355.2 Q731.4,353.6 733,353.6 H746 Q747.6,353.6 747.6,355.2 V360.2" class="n"/>
<circle cx="735.0" cy="357" r="1.25" class="n"/>
<circle cx="740.7" cy="357" r="1.25" class="n"/>
<circle cx="745.4" cy="357" r="1.25" class="n"/>
<rect x="737.6" y="334" width="3.8" height="20" class="f"/>
<rect x="734" y="337.2" width="8" height="3.6" class="f"/><rect x="734" y="346" width="8" height="4" class="f"/>
<rect x="735.2" y="338.2" width="1.4" height="1.4" fill="#fff"/><rect x="738.6" y="338" width="1.6" height="1.6" fill="#fff"/><rect x="738.8" y="347.2" width="1.4" height="1.4" fill="#fff"/>
<rect x="738" y="352" width="5.5" height="1.8" class="f"/>
<path d="M741.5,338.8 L758.1,338.8 L758.1,363.2 L856.6,363.2 L856.6,139.0 L915.5,139.0" fill="none" stroke="#000" stroke-width="6.0" stroke-linejoin="round"/>
<rect x="755.4" y="360.2" width="103.7" height="6.0" rx="1.5" class="f"/>
<path d="M742,344.2 h13.5 v3.4 h-10 l-3.5,2.4 Z" class="f"/>
<path d="M906.5,137.4 C912.0,132.8 920.0,132.3 925.0,134 L932.5,137 L922.0,140.2 Z" class="f"/>
<path d="M922.4,137.5 L935.6,137.5" class="n"/>
<path d="M922.4,140.5 L935.6,140.5" class="n"/>
<text x="755.1" y="315.0" class="hid">НБ</text>
<g class="blk"><path d="M755.10,301.40 h3.10 v5.22 h5.30 v-5.22 h3.40 v13.60 h-3.40 v-4.91 h-5.30 v4.91 h-3.10 Z"/><path fill-rule="evenodd" d="M768.20,301.40 h10.9 v3.07 h-7.9 v2.25 h5 l3.9,4.09 l-3.9,4.19 h-8 Z M771.40,309.99 h4.9 v1.53 h-4.9 Z"/></g>
<path d="M715.0,297.5 Q701.5,297.5 688.0,297.5" class="b"/>
<path d="M841.0,297.5 Q827.5,297.5 814.0,297.5" class="b"/>
<path d="M715.0,311.5 Q701.5,311.5 688.0,311.5" class="b"/>
<path d="M841.0,311.5 Q827.5,311.5 814.0,311.5" class="b"/>
<path d="M715.0,325.5 Q701.5,325.5 688.0,325.5" class="b"/>
<path d="M841.0,325.5 Q827.5,325.5 814.0,325.5" class="b"/>
<path d="M715.0,339.5 Q701.5,339.5 688.0,339.5" class="b"/>
<path d="M841.0,339.5 Q827.5,339.5 814.0,339.5" class="b"/>
<path d="M715.0,352.5 Q701.5,352.5 688.0,352.5" class="b"/>
<path d="M841.0,352.5 Q827.5,352.5 814.0,352.5" class="b"/>
<text class="ttl" x="0" y="0" transform="translate(1000.2,65.8) scale(0.82,1)">Вариант</text>
<text class="ttl" x="0" y="0" transform="translate(1074.5,65.8) scale(0.88,1)">2</text>
<clipPath id="hc8"><polygon points="857.2,464.3 1346.7,464.3 1346.7,768.1 857.2,768.1 857.2,464.3 879.4,485.6 879.4,747.3 1325.6,747.3 1325.6,485.6 879.4,485.6"/></clipPath>
<path clip-path="url(#hc8)" d="M554.3,769.1 L860.1,463.3 M568.2,769.1 L874.0,463.3 M582.1,769.1 L887.9,463.3 M596.1,769.1 L901.9,463.3 M610.0,769.1 L915.8,463.3 M623.9,769.1 L929.7,463.3 M637.9,769.1 L943.7,463.3 M651.8,769.1 L957.6,463.3 M665.7,769.1 L971.5,463.3 M679.6,769.1 L985.4,463.3 M693.6,769.1 L999.4,463.3 M707.5,769.1 L1013.3,463.3 M721.4,769.1 L1027.2,463.3 M735.4,769.1 L1041.2,463.3 M749.3,769.1 L1055.1,463.3 M763.2,769.1 L1069.0,463.3 M777.2,769.1 L1083.0,463.3 M791.1,769.1 L1096.9,463.3 M805.0,769.1 L1110.8,463.3 M818.9,769.1 L1124.7,463.3 M832.9,769.1 L1138.7,463.3 M846.8,769.1 L1152.6,463.3 M860.7,769.1 L1166.5,463.3 M874.7,769.1 L1180.5,463.3 M888.6,769.1 L1194.4,463.3 M902.5,769.1 L1208.3,463.3 M916.5,769.1 L1222.3,463.3 M930.4,769.1 L1236.2,463.3 M944.3,769.1 L1250.1,463.3 M958.2,769.1 L1264.0,463.3 M972.2,769.1 L1278.0,463.3 M986.1,769.1 L1291.9,463.3 M1000.0,769.1 L1305.8,463.3 M1014.0,769.1 L1319.8,463.3 M1027.9,769.1 L1333.7,463.3 M1041.8,769.1 L1347.6,463.3 M1055.8,769.1 L1361.6,463.3 M1069.7,769.1 L1375.5,463.3 M1083.6,769.1 L1389.4,463.3 M1097.5,769.1 L1403.3,463.3 M1111.5,769.1 L1417.3,463.3 M1125.4,769.1 L1431.2,463.3 M1139.3,769.1 L1445.1,463.3 M1153.3,769.1 L1459.1,463.3 M1167.2,769.1 L1473.0,463.3 M1181.1,769.1 L1486.9,463.3 M1195.1,769.1 L1500.9,463.3 M1209.0,769.1 L1514.8,463.3 M1222.9,769.1 L1528.7,463.3 M1236.8,769.1 L1542.6,463.3 M1250.8,769.1 L1556.6,463.3 M1264.7,769.1 L1570.5,463.3 M1278.6,769.1 L1584.4,463.3 M1292.6,769.1 L1598.4,463.3 M1306.5,769.1 L1612.3,463.3 M1320.4,769.1 L1626.2,463.3 M1334.4,769.1 L1640.2,463.3" class="h" style="stroke-width:0.90"/>
<rect x="857.5" y="464.5" width="489.0" height="304.0" class="w"/>
<rect x="879.5" y="485.5" width="446.0" height="262.0" class="w"/>
<clipPath id="hc9"><polygon points="1346.7,559.5 1368.7,559.5 1368.7,673.5 1346.7,673.5"/></clipPath>
<path clip-path="url(#hc9)" d="M1237.7,558.5 L1353.7,674.5 M1251.6,558.5 L1367.6,674.5 M1265.5,558.5 L1381.5,674.5 M1279.4,558.5 L1395.4,674.5 M1293.3,558.5 L1409.3,674.5 M1307.2,558.5 L1423.2,674.5 M1321.1,558.5 L1437.1,674.5 M1335.0,558.5 L1451.0,674.5 M1348.9,558.5 L1464.9,674.5 M1362.8,558.5 L1478.8,674.5" class="h" style="stroke-width:0.90"/>
<path d="M1346.7,559.5 L1368.5,559.5 L1368.5,673.5 L1346.7,673.5" class="w"/>
<path d="M1357.9,559.5 L1368.7,542.5 L1473.9,542.5" class="n"/>
<text x="1371.0" y="515.8" class="hid">Дверь в</text><text x="1379.0" y="539.8" class="hid">камеру</text>
<path d="M1371.5,518.5 L1371.5,515.5 L1385.5,515.5 L1385.5,518.5 M1373.5,515.5 L1373.5,510.5 L1378.5,500.5 L1383.5,500.5 L1383.5,515.5 M1397.5,510.5 L1390.5,510.5 M1390.5,515.5 L1390.5,505.5 L1397.5,505.5 L1399.5,506.5 L1399.5,509.5 L1397.5,510.5 L1400.5,511.5 L1400.5,514.5 L1398.5,515.5 L1390.5,515.5 M1404.5,510.5 L1414.5,508.5 L1414.5,507.5 L1412.5,505.5 L1406.5,505.5 L1404.5,508.5 L1404.5,513.5 L1406.5,515.5 L1412.5,515.5 M1419.5,515.5 L1419.5,505.5 L1426.5,505.5 L1429.5,507.5 L1429.5,510.5 L1426.5,513.5 L1419.5,513.5 M1433.5,505.5 L1433.5,515.5 L1438.5,515.5 L1441.5,513.5 L1441.5,512.5 L1438.5,510.5 L1433.5,510.5 M1467.5,510.5 L1460.5,510.5 M1460.5,515.5 L1460.5,505.5 L1467.5,505.5 L1469.5,506.5 L1469.5,509.5 L1467.5,510.5 L1470.5,511.5 L1470.5,514.5 L1468.5,515.5 L1460.5,515.5 M1379.5,529.5 L1379.5,539.5 M1389.5,529.5 L1380.5,534.5 L1389.5,539.5 M1379.5,534.5 L1380.5,534.5 M1403.5,529.5 L1403.5,539.5 M1403.5,529.5 L1397.5,529.5 L1394.5,532.5 L1394.5,537.5 L1397.5,539.5 L1403.5,539.5 M1408.5,539.5 L1408.5,529.5 L1413.5,536.5 L1418.5,529.5 L1418.5,539.5 M1423.5,534.5 L1433.5,532.5 L1433.5,531.5 L1431.5,529.5 L1425.5,529.5 L1423.5,532.5 L1423.5,537.5 L1426.5,539.5 L1432.5,539.5 M1437.5,539.5 L1437.5,529.5 L1444.5,529.5 L1447.5,531.5 L1447.5,534.5 L1444.5,537.5 L1437.5,537.5 M1452.5,529.5 L1456.5,536.5 L1462.5,536.5 M1462.5,529.5 L1462.5,537.5 L1459.5,539.5 L1453.5,539.5 L1451.5,538.5" class="t"/>
<path d="M924.7,498.4 Q897.5,502.8 888.3,529.7" class="a"/>
<path d="M924.7,734.4 Q897.5,730.0 888.3,703.1" class="a"/>
<path d="M918.4,525.7 Q892.7,535.8 888.3,562.7" class="a"/>
<path d="M918.4,707.1 Q892.7,697.0 888.3,670.1" class="a"/>
<path d="M956.5,514.4 Q921.5,530.2 908.4,563.2" class="a"/>
<path d="M956.5,718.4 Q921.5,702.6 908.4,669.6" class="a"/>
<path d="M1011.1,492.6 Q984.8,482.8 963.2,503.1" class="a"/>
<path d="M1011.1,740.2 Q984.8,750.1 963.2,729.7" class="a"/>
<path d="M991.6,513.4 Q962.3,511.3 947.7,533.2" class="a"/>
<path d="M991.6,719.4 Q962.3,721.5 947.7,699.6" class="a"/>
<path d="M1030.9,522.2 Q990.3,522.1 964.5,541.5" class="a"/>
<path d="M1030.9,710.6 Q990.3,710.6 964.5,691.3" class="a"/>
<path d="M1088.5,489.6 Q1066.4,489.5 1046.7,493.9" class="a"/>
<path d="M1088.5,743.2 Q1066.4,743.3 1046.7,738.9" class="a"/>
<path d="M1129.8,505.3 C1100.0,505.0 1066.0,505.6 1031.6,515.2" class="a"/>
<path d="M1129.8,727.5 C1100.0,727.8 1066.0,727.2 1031.6,717.6" class="a"/>
<path d="M1217.2,493.4 Q1166.8,487.0 1121.1,493.4" class="a"/>
<path d="M1217.2,739.4 Q1166.8,745.8 1121.1,739.4" class="a"/>
<path d="M1229.0,516.0 Q1193.8,514.5 1159.4,515.8" class="a"/>
<path d="M1229.0,716.8 Q1193.8,718.3 1159.4,717.0" class="a"/>
<path d="M1173.7,534.4 Q1123.2,528.3 1076.0,533.9" class="a"/>
<path d="M1173.7,698.4 Q1123.2,704.5 1076.0,698.9" class="a"/>
<path d="M1095.0,568.5 Q1143.2,565.9 1190.7,556.5" class="a"/>
<path d="M1095.0,664.3 Q1143.2,666.9 1190.7,676.3" class="a"/>
<path d="M1083.0,590.3 Q1117.5,587.4 1151.9,582.0" class="a"/>
<path d="M1083.0,642.5 Q1117.5,645.4 1151.9,650.8" class="a"/>
<path d="M1076.0,614.4 Q1124.0,611.0 1171.9,602.8" class="a"/>
<path d="M1076.0,618.4 Q1124.0,621.8 1171.9,630.0" class="a"/>
<path d="M1173.9,572.3 Q1212.2,569.8 1237.7,544.2" class="a"/>
<path d="M1173.9,660.5 Q1212.2,663.0 1237.7,688.6" class="a"/>
<path d="M1154.1,595.6 Q1213.1,597.5 1247.7,567.3" class="a"/>
<path d="M1154.1,637.2 Q1213.1,635.2 1247.7,665.5" class="a"/>
<path d="M1237.2,608.1 Q1265.1,607.3 1280.6,585.3" class="a"/>
<path d="M1237.2,624.7 Q1265.1,625.5 1280.6,647.5" class="a"/>
<path d="M1261.0,583.5 Q1283.0,563.0 1279.1,538.4" class="a"/>
<path d="M1261.0,649.3 Q1283.0,669.8 1279.1,694.4" class="a"/>
<path d="M1289.3,543.5 Q1283.7,518.7 1257.3,507.1" class="a"/>
<path d="M1289.3,689.3 Q1283.7,714.1 1257.3,725.7" class="a"/>
<path d="M1290.6,505.6 Q1281.6,490.9 1260.3,492.6" class="a"/>
<path d="M1290.6,727.2 Q1281.6,741.9 1260.3,740.2" class="a"/>
<path d="M890.1,574.5 Q897.0,584.9 903.9,595.3" class="a"/>
<path d="M890.1,658.3 Q897.0,647.9 903.9,637.5" class="a"/>
<path d="M888.1,591.1 Q896.9,600.4 905.6,609.6" class="a"/>
<path d="M888.1,641.7 Q896.9,632.4 905.6,623.2" class="a"/>
<path d="M990.6,570.5 Q1025.5,570.5 1060.3,570.5" class="a"/>
<path d="M1003.3,593.5 Q1031.8,593.5 1060.3,593.5" class="a"/>
<path d="M990.6,616.5 Q1025.5,616.5 1060.3,616.5" class="a"/>
<path d="M1003.3,639.5 Q1031.8,639.5 1060.3,639.5" class="a"/>
<path d="M990.6,662.5 Q1025.5,662.5 1060.3,662.5" class="a"/>
<rect x="926.5" y="581.5" width="54.0" height="70.0" class="w"/>
<path d="M979.5,581.7 L979.5,651.0" class="n"/>
<rect x="923.5" y="583.5" width="61.0" height="3.0" class="n"/>
<rect x="926.5" y="646.5" width="58.0" height="3.0" class="n"/>
<rect x="922.6" y="583" width="3.6" height="3.6" class="f"/>
<rect x="981.4" y="583" width="3.2" height="3.6" class="f"/>
<rect x="981.4" y="646.2" width="3.2" height="3.6" class="f"/>
<rect x="919.5" y="646" width="3" height="4" class="f"/>
<path d="M925.8,606 Q923.3,614.5 925.8,623" fill="none" stroke="#000" stroke-width="2.3"/>
<rect x="935.5" y="652.5" width="15.0" height="4.0" class="n"/>
<rect x="938.0" y="652.5" width="9.5" height="3.8" class="f"/>
<path d="M936.0,658.5 L949.5,658.5" class="w"/>
<text x="941.9" y="624.9" class="hid">ВБ</text>
<g class="blk"><path fill-rule="evenodd" d="M941.90,612.00 h9.6 l1.3,1.26 v3.10 l-0.9,1.26 l1.8,1.55 v3.88 l-1.6,1.84 h-10.2 Z M945.10,615.20 h4.2 v1.84 h-4.2 Z M945.10,619.95 h4.9 v1.84 h-4.9 Z"/><path fill-rule="evenodd" d="M955.00,612.00 h10.9 v2.91 h-7.9 v2.13 h5 l3.9,3.88 l-3.9,3.98 h-8 Z M958.20,620.15 h4.9 v1.45 h-4.9 Z"/></g>
<rect x="721.5" y="647.5" width="87.0" height="114.0" class="w"/>
<path d="M807.5,647.4 L807.5,761.1" class="n"/>
<rect x="713.5" y="671.5" width="8.0" height="7.0" class="w"/>
<rect x="808.5" y="671.5" width="9.0" height="7.0" class="w"/>
<rect x="716.2" y="674.0" width="1.6" height="1.8" class="f"/><rect x="814" y="674.0" width="1.6" height="1.8" class="f"/>
<rect x="713.5" y="730.5" width="8.0" height="6.0" class="w"/>
<rect x="808.5" y="730.5" width="9.0" height="6.0" class="w"/>
<rect x="716.2" y="732.6" width="1.6" height="1.8" class="f"/><rect x="814" y="732.6" width="1.6" height="1.8" class="f"/>
<rect x="734.4" y="762.2" width="3" height="3" class="n"/><rect x="738.2" y="761.5" width="4.2" height="7" class="f"/><rect x="739.3" y="762.4" width="1.6" height="2.6" fill="#fff"/>
<text x="755.2" y="712.6" class="hid">НБ</text>
<g class="blk"><path d="M755.20,699.20 h3.10 v5.14 h5.30 v-5.14 h3.40 v13.40 h-3.40 v-4.84 h-5.30 v4.84 h-3.10 Z"/><path fill-rule="evenodd" d="M768.30,699.20 h10.9 v3.02 h-7.9 v2.22 h5 l3.9,4.03 l-3.9,4.13 h-8 Z M771.50,707.66 h4.9 v1.51 h-4.9 Z"/></g>
<path d="M742.0,762.7 L856.3,762.7 L856.3,647.4 L911.4,647.4" fill="none" stroke="#000" stroke-width="5.6" stroke-linejoin="round"/>
<rect x="854" y="644.4" width="57.4" height="6.3" rx="1" class="f"/>
<rect x="903" y="647" width="16.2" height="4.4" class="f"/>
<rect x="919.2" y="646.2" width="3.2" height="4.6" fill="#fff" stroke="#000" stroke-width="0.9"/>
<rect x="922.4" y="646.8" width="3.6" height="3.6" class="f"/>
<path d="M708.0,654.5 Q695.1,654.5 682.2,654.5" class="b"/>
<path d="M846.0,654.5 Q833.1,654.5 820.3,654.5" class="b"/>
<path d="M708.0,668.5 Q695.1,668.5 682.2,668.5" class="b"/>
<path d="M846.0,668.5 Q833.1,668.5 820.3,668.5" class="b"/>
<path d="M708.0,682.5 Q695.1,682.5 682.2,682.5" class="b"/>
<path d="M846.0,682.5 Q833.1,682.5 820.3,682.5" class="b"/>
<path d="M708.0,696.5 Q695.1,696.5 682.2,696.5" class="b"/>
<path d="M846.0,696.5 Q833.1,696.5 820.3,696.5" class="b"/>
<path d="M708.0,710.5 Q695.1,710.5 682.2,710.5" class="b"/>
<path d="M846.0,710.5 Q833.1,710.5 820.3,710.5" class="b"/>
<path d="M708.0,724.5 Q695.1,724.5 682.2,724.5" class="b"/>
<path d="M846.0,724.5 Q833.1,724.5 820.3,724.5" class="b"/>
<path d="M708.0,738.5 Q695.1,738.5 682.2,738.5" class="b"/>
<path d="M846.0,738.5 Q833.1,738.5 820.3,738.5" class="b"/>
<path d="M708.0,752.5 Q695.1,752.5 682.2,752.5" class="b"/>
<path d="M846.0,752.5 Q833.1,752.5 820.3,752.5" class="b"/>
<clipPath id="hc10"><polygon points="90.2,464.3 579.7,464.3 579.7,768.1 90.2,768.1 90.2,464.3 112.4,485.6 112.4,747.3 558.6,747.3 558.6,485.6 112.4,485.6"/></clipPath>
<path clip-path="url(#hc10)" d="M-207.9,769.1 L97.9,463.3 M-194.0,769.1 L111.8,463.3 M-180.0,769.1 L125.8,463.3 M-166.1,769.1 L139.7,463.3 M-152.2,769.1 L153.6,463.3 M-138.3,769.1 L167.5,463.3 M-124.3,769.1 L181.5,463.3 M-110.4,769.1 L195.4,463.3 M-96.5,769.1 L209.3,463.3 M-82.5,769.1 L223.3,463.3 M-68.6,769.1 L237.2,463.3 M-54.7,769.1 L251.1,463.3 M-40.7,769.1 L265.1,463.3 M-26.8,769.1 L279.0,463.3 M-12.9,769.1 L292.9,463.3 M1.0,769.1 L306.8,463.3 M15.0,769.1 L320.8,463.3 M28.9,769.1 L334.7,463.3 M42.8,769.1 L348.6,463.3 M56.8,769.1 L362.6,463.3 M70.7,769.1 L376.5,463.3 M84.6,769.1 L390.4,463.3 M98.6,769.1 L404.4,463.3 M112.5,769.1 L418.3,463.3 M126.4,769.1 L432.2,463.3 M140.3,769.1 L446.1,463.3 M154.3,769.1 L460.1,463.3 M168.2,769.1 L474.0,463.3 M182.1,769.1 L487.9,463.3 M196.1,769.1 L501.9,463.3 M210.0,769.1 L515.8,463.3 M223.9,769.1 L529.7,463.3 M237.9,769.1 L543.7,463.3 M251.8,769.1 L557.6,463.3 M265.7,769.1 L571.5,463.3 M279.6,769.1 L585.4,463.3 M293.6,769.1 L599.4,463.3 M307.5,769.1 L613.3,463.3 M321.4,769.1 L627.2,463.3 M335.4,769.1 L641.2,463.3 M349.3,769.1 L655.1,463.3 M363.2,769.1 L669.0,463.3 M377.2,769.1 L683.0,463.3 M391.1,769.1 L696.9,463.3 M405.0,769.1 L710.8,463.3 M418.9,769.1 L724.7,463.3 M432.9,769.1 L738.7,463.3 M446.8,769.1 L752.6,463.3 M460.7,769.1 L766.5,463.3 M474.7,769.1 L780.5,463.3 M488.6,769.1 L794.4,463.3 M502.5,769.1 L808.3,463.3 M516.5,769.1 L822.3,463.3 M530.4,769.1 L836.2,463.3 M544.3,769.1 L850.1,463.3 M558.2,769.1 L864.0,463.3 M572.2,769.1 L878.0,463.3" class="h" style="stroke-width:0.90"/>
<rect x="112.5" y="485.5" width="446.0" height="262.0" class="w"/>
<clipPath id="hc11"><polygon points="579.7,559.5 601.7,559.5 601.7,673.5 579.7,673.5"/></clipPath>
<path clip-path="url(#hc11)" d="M470.7,558.5 L586.7,674.5 M484.6,558.5 L600.6,674.5 M498.5,558.5 L614.5,674.5 M512.4,558.5 L628.4,674.5 M526.3,558.5 L642.3,674.5 M540.2,558.5 L656.2,674.5 M554.1,558.5 L670.1,674.5 M568.0,558.5 L684.0,674.5 M581.9,558.5 L697.9,674.5 M595.8,558.5 L711.8,674.5" class="h" style="stroke-width:0.90"/>
<path d="M157.7,498.4 Q130.5,502.8 121.3,529.7" class="a"/>
<path d="M157.7,734.4 Q130.5,730.0 121.3,703.1" class="a"/>
<path d="M151.4,525.7 Q125.7,535.8 121.3,562.7" class="a"/>
<path d="M151.4,707.1 Q125.7,697.0 121.3,670.1" class="a"/>
<path d="M189.5,514.4 Q154.6,530.2 141.4,563.2" class="a"/>
<path d="M189.5,718.4 Q154.6,702.6 141.4,669.6" class="a"/>
<path d="M244.1,492.6 Q217.8,482.8 196.2,503.1" class="a"/>
<path d="M244.1,740.2 Q217.8,750.1 196.2,729.7" class="a"/>
<path d="M224.6,513.4 Q195.3,511.3 180.7,533.2" class="a"/>
<path d="M224.6,719.4 Q195.3,721.5 180.7,699.6" class="a"/>
<path d="M263.9,522.2 Q223.3,522.1 197.5,541.5" class="a"/>
<path d="M263.9,710.6 Q223.3,710.6 197.5,691.3" class="a"/>
<path d="M321.5,489.6 Q299.4,489.5 279.7,493.9" class="a"/>
<path d="M321.5,743.2 Q299.4,743.3 279.7,738.9" class="a"/>
<path d="M362.8,505.3 C333.0,505.0 299.0,505.6 264.6,515.2" class="a"/>
<path d="M362.8,727.5 C333.0,727.8 299.0,727.2 264.6,717.6" class="a"/>
<path d="M450.2,493.4 Q399.9,487.0 354.1,493.4" class="a"/>
<path d="M450.2,739.4 Q399.9,745.8 354.1,739.4" class="a"/>
<path d="M462.0,516.0 Q426.8,514.5 392.4,515.8" class="a"/>
<path d="M462.0,716.8 Q426.8,718.3 392.4,717.0" class="a"/>
<path d="M406.7,534.4 Q356.1,528.3 309.0,533.9" class="a"/>
<path d="M406.7,698.4 Q356.1,704.5 309.0,698.9" class="a"/>
<path d="M328.0,568.5 Q376.1,565.9 423.7,556.5" class="a"/>
<path d="M328.0,664.3 Q376.1,666.9 423.7,676.3" class="a"/>
<path d="M316.0,590.3 Q350.5,587.4 384.9,582.0" class="a"/>
<path d="M316.0,642.5 Q350.5,645.4 384.9,650.8" class="a"/>
<path d="M309.0,614.4 Q357.0,611.0 404.9,602.8" class="a"/>
<path d="M309.0,618.4 Q357.0,621.8 404.9,630.0" class="a"/>
<path d="M406.9,660.5 Q445.2,663.0 470.7,688.6" class="a"/>
<path d="M387.1,637.2 Q446.1,635.2 480.7,665.5" class="a"/>
<path d="M470.2,608.1 Q498.1,607.3 513.6,585.3" class="a"/>
<path d="M470.2,624.7 Q498.1,625.5 513.6,647.5" class="a"/>
<path d="M494.0,649.3 Q516.0,669.8 512.1,694.4" class="a"/>
<path d="M522.3,689.3 Q516.7,714.1 490.3,725.7" class="a"/>
<path d="M523.6,727.2 Q514.6,741.9 493.3,740.2" class="a"/>
<path d="M123.1,574.5 Q130.0,584.9 136.9,595.3" class="a"/>
<path d="M123.1,658.3 Q130.0,647.9 136.9,637.5" class="a"/>
<path d="M121.1,591.1 Q129.9,600.4 138.6,609.6" class="a"/>
<path d="M121.1,641.7 Q129.9,632.4 138.6,623.2" class="a"/>
<path d="M223.6,570.5 Q258.5,570.5 293.3,570.5" class="a"/>
<path d="M236.3,593.5 Q264.8,593.5 293.3,593.5" class="a"/>
<path d="M223.6,616.5 Q258.5,616.5 293.3,616.5" class="a"/>
<path d="M236.3,639.5 Q264.8,639.5 293.3,639.5" class="a"/>
<path d="M223.6,662.5 Q258.5,662.5 293.3,662.5" class="a"/>
<path d="M378.6,464.3 C375,478 369.5,498 368.6,517 C367.5,545 372,570 382.5,581 C392,592 404,595.2 418,594.8 C440,594 462,586.5 487,584.4 C512,582.8 540,589.5 579.7,597.6 L579.7,464.3 Z" class="wf"/>
<path d="M378.6,464.3 C375,478 369.5,498 368.6,517 C367.5,545 372,570 382.5,581 C392,592 404,595.2 418,594.8 C440,594 462,586.5 487,584.4 C512,582.8 540,589.5 579.7,597.6" class="n"/>
<rect x="90.5" y="464.5" width="489.0" height="304.0" class="w"/>
<path d="M579.7,559.5 L601.5,559.5 L601.5,673.5 L579.7,673.5" class="w"/>
<path d="M590.9,559.5 L601.7,542.5 L706.9,542.5" class="n"/>
<text x="604.0" y="515.8" class="hid">Дверь в</text><text x="612.0" y="539.8" class="hid">камеру</text>
<path d="M604.5,518.5 L604.5,515.5 L618.5,515.5 L618.5,518.5 M606.5,515.5 L606.5,510.5 L611.5,500.5 L616.5,500.5 L616.5,515.5 M630.5,510.5 L623.5,510.5 M623.5,515.5 L623.5,505.5 L630.5,505.5 L632.5,506.5 L632.5,509.5 L630.5,510.5 L633.5,511.5 L633.5,514.5 L631.5,515.5 L623.5,515.5 M637.5,510.5 L647.5,508.5 L647.5,507.5 L645.5,505.5 L639.5,505.5 L637.5,508.5 L637.5,513.5 L639.5,515.5 L645.5,515.5 M652.5,515.5 L652.5,505.5 L659.5,505.5 L662.5,507.5 L662.5,510.5 L659.5,513.5 L652.5,513.5 M666.5,505.5 L666.5,515.5 L671.5,515.5 L674.5,513.5 L674.5,512.5 L671.5,510.5 L666.5,510.5 M700.5,510.5 L693.5,510.5 M693.5,515.5 L693.5,505.5 L700.5,505.5 L702.5,506.5 L702.5,509.5 L700.5,510.5 L703.5,511.5 L703.5,514.5 L701.5,515.5 L693.5,515.5 M612.5,529.5 L612.5,539.5 M622.5,529.5 L613.5,534.5 L622.5,539.5 M612.5,534.5 L613.5,534.5 M636.5,529.5 L636.5,539.5 M636.5,529.5 L630.5,529.5 L627.5,532.5 L627.5,537.5 L630.5,539.5 L636.5,539.5 M641.5,539.5 L641.5,529.5 L646.5,536.5 L651.5,529.5 L651.5,539.5 M656.5,534.5 L666.5,532.5 L666.5,531.5 L664.5,529.5 L658.5,529.5 L656.5,532.5 L656.5,537.5 L659.5,539.5 L665.5,539.5 M670.5,539.5 L670.5,529.5 L677.5,529.5 L680.5,531.5 L680.5,534.5 L677.5,537.5 L670.5,537.5 M685.5,529.5 L689.5,536.5 L695.5,536.5 M695.5,529.5 L695.5,537.5 L692.5,539.5 L686.5,539.5 L684.5,538.5" class="t"/>
<rect x="159.5" y="581.5" width="54.0" height="70.0" class="w"/>
<path d="M212.5,581.7 L212.5,651.0" class="n"/>
<rect x="156.5" y="583.5" width="61.0" height="3.0" class="n"/>
<rect x="159.5" y="646.5" width="58.0" height="3.0" class="n"/>
<rect x="155.6" y="583" width="3.6" height="3.6" class="f"/>
<rect x="214.4" y="583" width="3.2" height="3.6" class="f"/>
<rect x="214.4" y="646.2" width="3.2" height="3.6" class="f"/>
<rect x="152.5" y="646" width="3" height="4" class="f"/>
<path d="M158.8,606 Q156.3,614.5 158.8,623" fill="none" stroke="#000" stroke-width="2.3"/>
<rect x="168.5" y="652.5" width="15.0" height="4.0" class="n"/>
<rect x="171.0" y="652.5" width="9.5" height="3.8" class="f"/>
<path d="M169.0,658.5 L182.5,658.5" class="w"/>
<text x="174.9" y="624.9" class="hid">ВБ</text>
<g class="blk"><path fill-rule="evenodd" d="M174.90,612.00 h9.6 l1.3,1.26 v3.10 l-0.9,1.26 l1.8,1.55 v3.88 l-1.6,1.84 h-10.2 Z M178.10,615.20 h4.2 v1.84 h-4.2 Z M178.10,619.95 h4.9 v1.84 h-4.9 Z"/><path fill-rule="evenodd" d="M188.00,612.00 h10.9 v2.91 h-7.9 v2.13 h5 l3.9,3.88 l-3.9,3.98 h-8 Z M191.20,620.15 h4.9 v1.45 h-4.9 Z"/></g>
<rect x="405.5" y="483.5" width="114.0" height="87.0" class="w"/>
<rect x="430.5" y="474.5" width="6.0" height="9.0" class="w"/>
<rect x="430.5" y="570.5" width="6.0" height="9.0" class="w"/>
<circle cx="433.7" cy="478" r="1.1" class="n"/>
<rect x="432.4" y="576" width="2.6" height="1.6" class="f"/>
<rect x="489.5" y="474.5" width="6.0" height="9.0" class="w"/>
<rect x="489.5" y="570.5" width="6.0" height="9.0" class="w"/>
<circle cx="492.4" cy="478" r="1.1" class="n"/>
<rect x="491.1" y="576" width="2.6" height="1.6" class="f"/>
<text x="453.1" y="532.4" class="hid">НБ</text>
<g class="blk"><path d="M453.10,519.20 h3.10 v5.06 h5.30 v-5.06 h3.40 v13.20 h-3.40 v-4.76 h-5.30 v4.76 h-3.10 Z"/><path fill-rule="evenodd" d="M466.20,519.20 h10.9 v2.98 h-7.9 v2.18 h5 l3.9,3.97 l-3.9,4.07 h-8 Z M469.40,527.54 h4.9 v1.49 h-4.9 Z"/></g>
<path d="M427.5,417.5 Q427.5,440.7 427.5,463.9" class="b"/>
<path d="M427.5,579.5 Q427.5,602.0 427.5,624.6" class="b"/>
<path d="M441.5,417.5 Q441.5,440.7 441.5,463.9" class="b"/>
<path d="M441.5,579.5 Q441.5,602.0 441.5,624.6" class="b"/>
<path d="M455.5,417.5 Q455.5,440.7 455.5,463.9" class="b"/>
<path d="M455.5,579.5 Q455.5,602.0 455.5,624.6" class="b"/>
<path d="M469.5,417.5 Q469.5,440.7 469.5,463.9" class="b"/>
<path d="M469.5,579.5 Q469.5,602.0 469.5,624.6" class="b"/>
<path d="M483.5,417.5 Q483.5,440.7 483.5,463.9" class="b"/>
<path d="M483.5,579.5 Q483.5,602.0 483.5,624.6" class="b"/>
<path d="M497.5,417.5 Q497.5,440.7 497.5,463.9" class="b"/>
<path d="M497.5,579.5 Q497.5,602.0 497.5,624.6" class="b"/>
<path d="M524.5,553.0 L542.0,553.0 L542.0,470.9 L115.1,470.9 L115.1,647.3 L145.0,647.3" fill="none" stroke="#000" stroke-width="5.8" stroke-linejoin="round"/>
<rect x="519.6" y="547.5" width="5.2" height="11.5" class="f"/><rect x="521" y="549.2" width="1.8" height="1.8" fill="#fff"/><rect x="522.8" y="556" width="2" height="2.4" fill="#fff"/>
<rect x="140" y="646.6" width="12.6" height="4.2" class="f"/>
<rect x="152.6" y="646.0" width="3.2" height="4.6" fill="#fff" stroke="#000" stroke-width="0.9"/>
<rect x="155.8" y="646.6" width="3.6" height="3.6" class="f"/>
</svg>
</body></html>
